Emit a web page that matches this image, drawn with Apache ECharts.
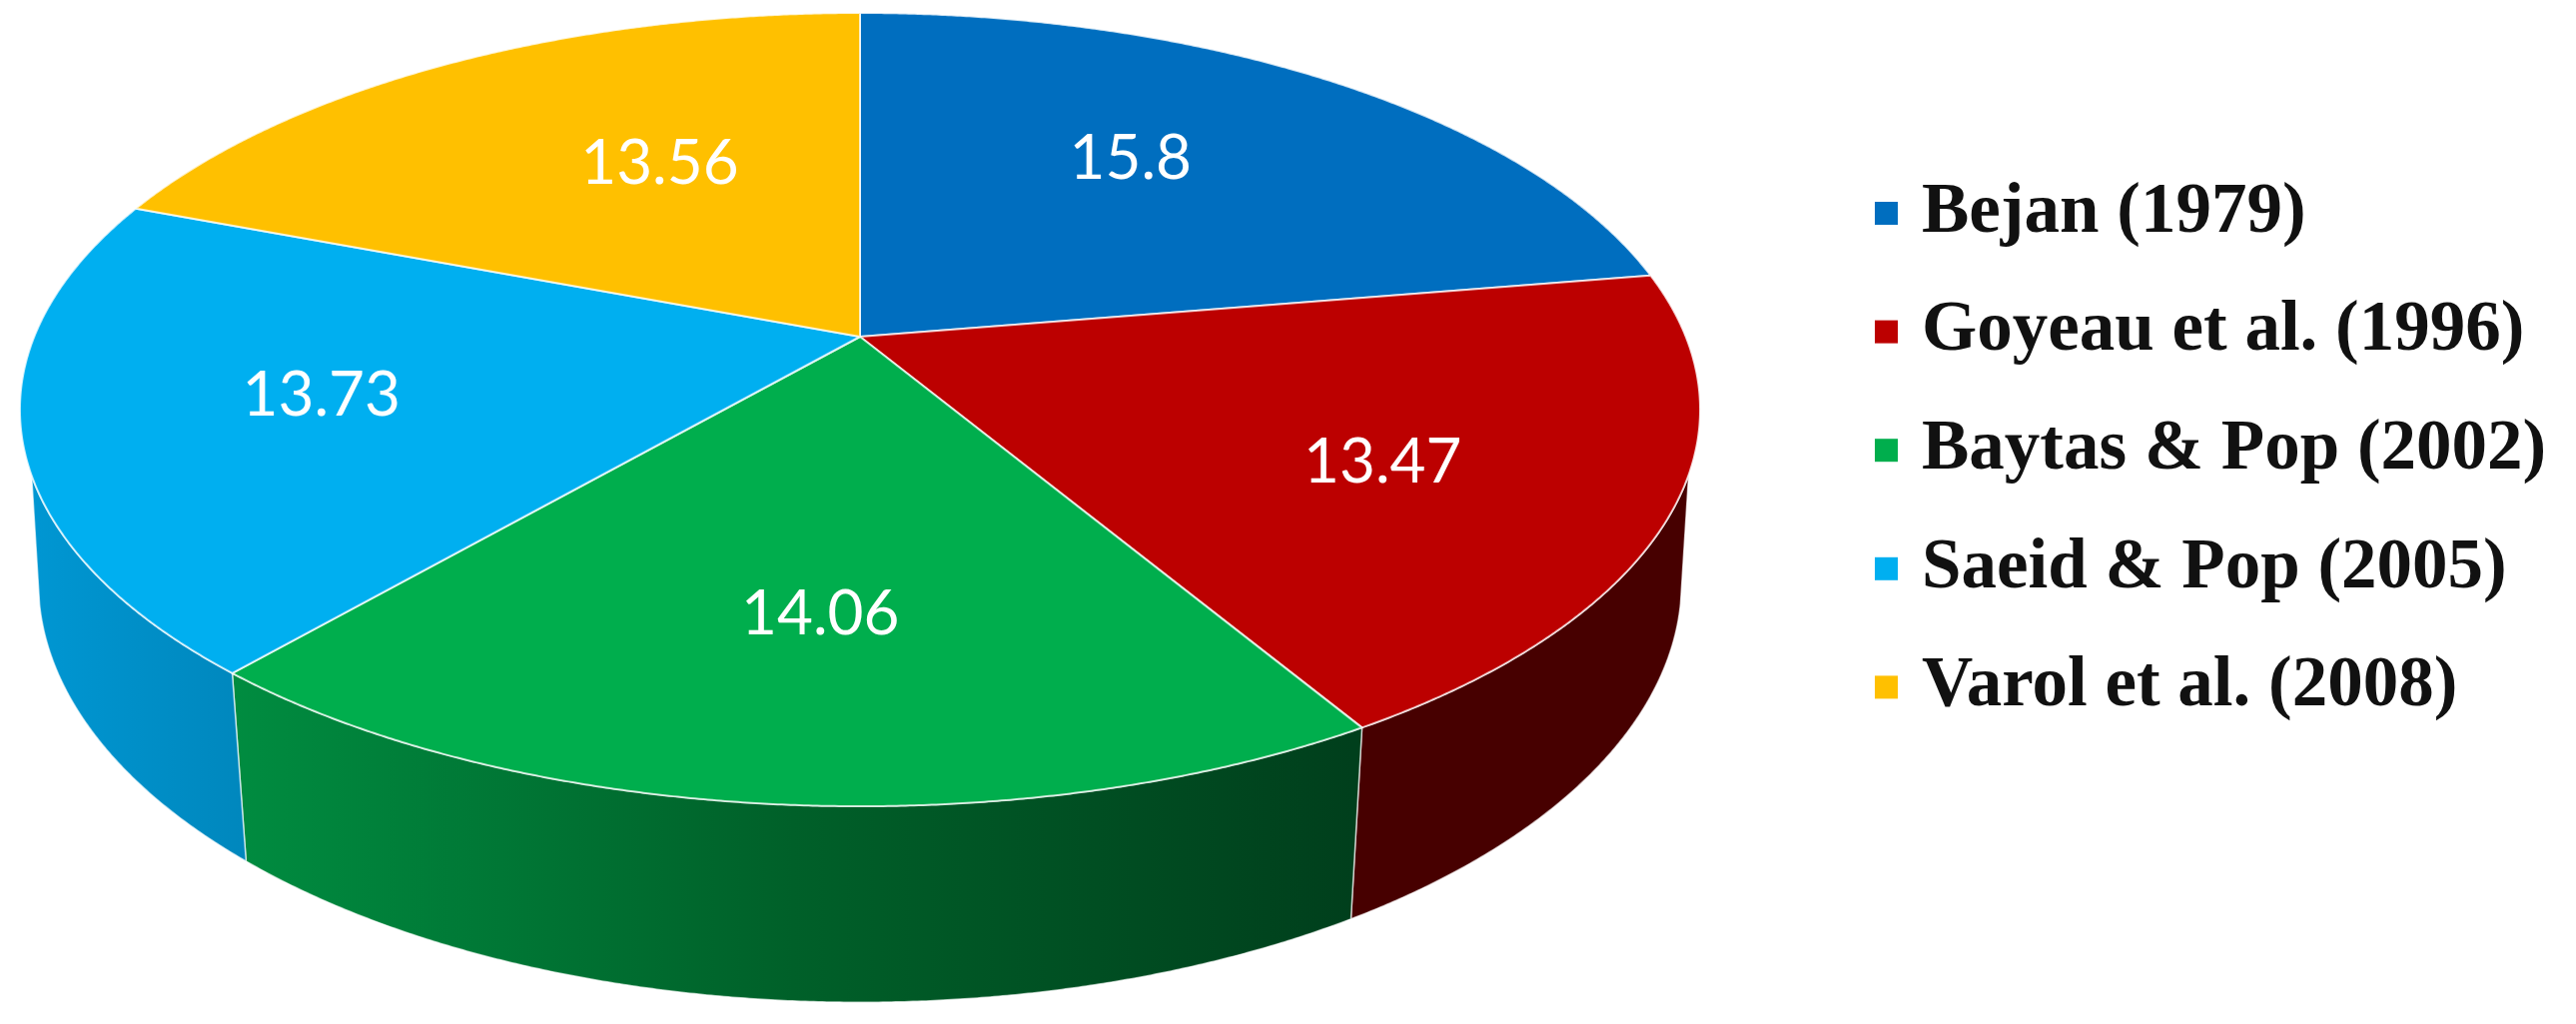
<!DOCTYPE html>
<html>
<head>
<meta charset="utf-8">
<style>html,body{margin:0;padding:0;background:#fff}#c{width:2579px;height:1025px}</style>
<script src="https://cdn.jsdelivr.net/npm/echarts@6/dist/echarts.min.js"></script>
</head>
<body>
<div id="c"></div>
<script>
const categories = ['Bejan (1979)', 'Goyeau et al. (1996)', 'Baytas & Pop (2002)', 'Saeid & Pop (2005)', 'Varol et al. (2008)'];
const values = [15.8, 13.47, 14.06, 13.73, 13.56];
const valueLabels = ['15.8', '13.47', '14.06', '13.73', '13.56'];
const topColors = ['#006ebf', '#bc0000', '#00ae4d', '#00aff0', '#ffc000'];

// label placement on the disc: angular shift (deg) from the slice middle, and radial fraction
const labelShift = [-5.5, 2, -1.2, 1.5, 6.7];
const labelRadius = [0.629, 0.670, 0.634, 0.651, 0.567];

// perspective disc geometry
const disc = { cx: 861, cy: 337, a: 383.6, b: 826.7, k: 0.1839 };
const floor = { sx: 0.978, sy: 1.06, dy: 168, rimStart: 475 };
const total = values.reduce((s, v) => s + v, 0);
const startAngle = values.map((_, i) => values.slice(0, i).reduce((s, v) => s + v, 0) / total * 360);

function topPoint(deg, r) {
  const t = deg * Math.PI / 180, x = Math.sin(t) * r, y = -Math.cos(t) * r, w = 1 - disc.k * y;
  return [disc.cx + disc.b * x / w, disc.cy + disc.a * y / w];
}
function floorPoint(deg) {
  const p = topPoint(deg, 1);
  return [disc.cx + (p[0] - disc.cx) * floor.sx, disc.cy + floor.dy + (p[1] - disc.cy) * floor.sy];
}
function facing(deg) {
  const p = topPoint(deg, 1), q = topPoint(deg + 0.1, 1), f = floorPoint(deg);
  return (q[0] - p[0]) * (f[1] - p[1]) - (q[1] - p[1]) * (f[0] - p[0]) < 0;
}
const sideFill = [
  '#003d6b',
  '#470000',
  new echarts.graphic.LinearGradient(233, 0, 1355, 0, [
    { offset: 0, color: '#008c40' }, { offset: 0.5, color: '#006029' }, { offset: 1, color: '#003f1c' }
  ], true),
  new echarts.graphic.LinearGradient(25, 0, 247, 0, [
    { offset: 0, color: '#0097d3' }, { offset: 1, color: '#0087bd' }
  ], true),
  '#7f6000'
];

function makeRender(i) {
  return function (params, api) {
    const from = startAngle[i], sweep = api.value(0) / total * 360;
    const step = 0.25, n = Math.round(sweep / step);
    const rim = [], upper = [], lower = [];
    for (let j = 0; j <= n; j++) {
      const deg = from + sweep * j / n;
      const p = topPoint(deg, 1);
      rim.push(p);
      if (facing(deg)) {
        if (p[1] >= floor.rimStart) upper.push(p);
        lower.push(floorPoint(deg));
      }
    }
    const children = [];
    if (upper.length > 1) {
      children.push({
        type: 'polygon', z2: 1 + i,
        shape: { points: upper.concat(lower.reverse()) },
        style: { fill: sideFill[i], stroke: 'rgba(255,255,255,0.65)', lineWidth: 1.5 }
      });
    }
    children.push({
      type: 'polygon', z2: 10,
      shape: { points: [[disc.cx, disc.cy]].concat(rim) },
      style: { fill: topColors[i], stroke: 'rgba(255,255,255,0.75)', lineWidth: 2, lineJoin: 'round' }
    });
    const lp = topPoint(from + sweep / 2 + labelShift[i], labelRadius[i]);
    children.push({
      type: 'text', z2: 20,
      style: {
        x: lp[0], y: lp[1] + 3, text: valueLabels[i], fill: '#fff',
        font: '62px Lato', align: 'center', verticalAlign: 'middle'
      }
    });
    return { type: 'group', children };
  };
}

const chart = echarts.init(document.getElementById('c'), null, { renderer: 'canvas' });
chart.setOption({
  animation: false,
  backgroundColor: '#fff',
  legend: {
    data: categories,
    orient: 'vertical',
    left: 1872,
    top: 173,
    itemWidth: 23,
    itemHeight: 23,
    itemGap: 47.6,
    icon: 'rect',
    selectedMode: false,
    textStyle: {
      fontFamily: 'Liberation Serif', fontWeight: 'bold', fontSize: 71,
      color: '#111', padding: [0, 0, 0, 19]
    }
  },
  series: categories.map((name, i) => ({
    type: 'custom',
    name,
    coordinateSystem: 'none',
    silent: true,
    itemStyle: { color: topColors[i] },
    data: [[values[i]]],
    renderItem: makeRender(i)
  }))
});
</script>
</body>
</html>
